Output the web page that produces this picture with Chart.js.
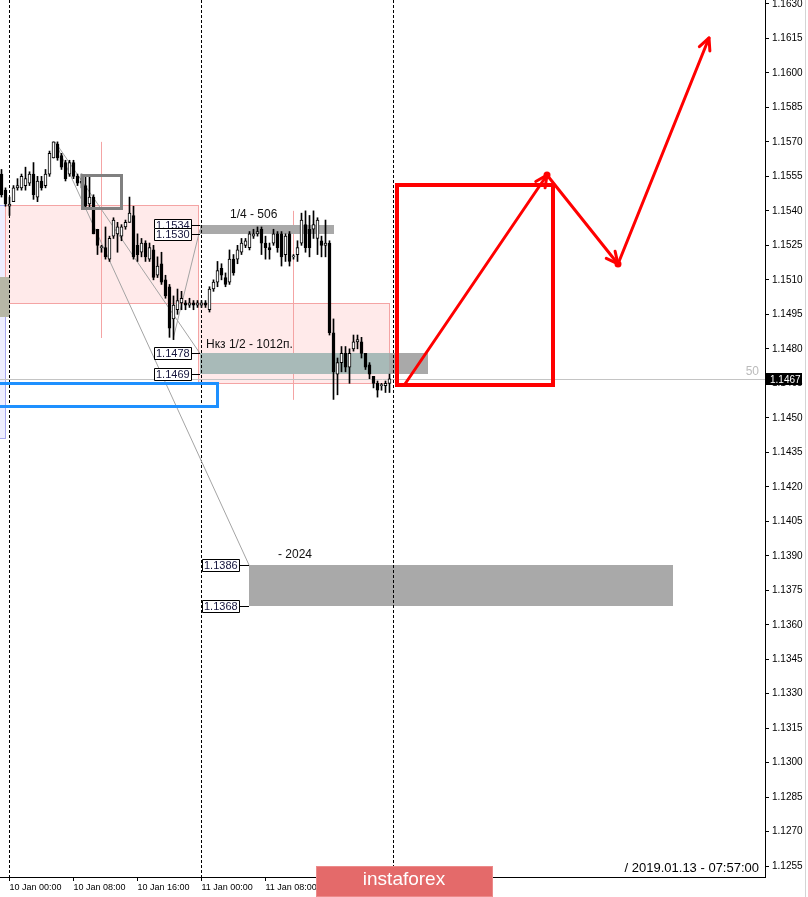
<!DOCTYPE html>
<html>
<head>
<meta charset="utf-8">
<script src="https://cdn.jsdelivr.net/npm/chart.js@4.4.1/dist/chart.umd.min.js"></script>
<style>
  html, body { margin: 0; padding: 0; background: #fff; }
  #wrap { position: relative; width: 808px; height: 897px; }
</style>
</head>
<body>
<div id="wrap"><canvas id="chart" width="808" height="897"></canvas></div>
<script>
// EURUSD M30, 9 Jan 23:00 .. 11 Jan 23:30. Bar 0 = 10 Jan 00:00
const firstBar = -2;
const opens = [
  1.1556, 1.1549,
  1.1542, 1.1544, 1.1550, 1.1550, 1.1551, 1.1552, 1.1556, 1.1546, 1.1553, 1.1551, 1.1556, 1.1563, 1.1569, 1.1564, 1.1561, 1.1556,
  1.1561, 1.1555, 1.1552, 1.1551, 1.1543, 1.1546, 1.1532, 1.1524, 1.1524, 1.1519, 1.1529, 1.1530, 1.1529, 1.1533, 1.1535, 1.1538,
  1.1525, 1.1522, 1.1526, 1.1519, 1.1523, 1.1512, 1.1517, 1.1510, 1.1507, 1.1493, 1.1497, 1.1500, 1.1500, 1.1499, 1.1500, 1.1499,
  1.1499, 1.1500, 1.1497, 1.1506, 1.1509, 1.1515, 1.1511, 1.1509, 1.1519, 1.1519, 1.1522, 1.1525, 1.1524, 1.1529, 1.1530, 1.1532,
  1.1526, 1.1524, 1.1526, 1.1530, 1.1530, 1.1521, 1.1530, 1.1520, 1.1521, 1.1526, 1.1534, 1.1532, 1.1532, 1.1528, 1.1527, 1.1525,
  1.1526, 1.1487, 1.1469, 1.1474, 1.1478, 1.1472, 1.1480, 1.1483, 1.1483, 1.1478, 1.1473, 1.1468, 1.1465, 1.1464, 1.1464, 1.1465
];
const highs = [
  1.1558, 1.1550,
  1.1546, 1.1551, 1.1554, 1.1556, 1.1559, 1.1557, 1.1561, 1.1555, 1.1555, 1.1558, 1.1566, 1.1570, 1.1570, 1.1565, 1.1562, 1.1562,
  1.1562, 1.1556, 1.1556, 1.1555, 1.1555, 1.1547, 1.1532, 1.1525, 1.1533, 1.1529, 1.1537, 1.1535, 1.1534, 1.1536, 1.1546, 1.1542,
  1.1530, 1.1528, 1.1527, 1.1526, 1.1525, 1.1520, 1.1522, 1.1512, 1.1508, 1.1503, 1.1506, 1.1505, 1.1501, 1.1502, 1.1501, 1.1501,
  1.1501, 1.1501, 1.1507, 1.1510, 1.1518, 1.1517, 1.1513, 1.1523, 1.1521, 1.1525, 1.1528, 1.1528, 1.1531, 1.1532, 1.1533, 1.1533,
  1.1529, 1.1526, 1.1532, 1.1531, 1.1531, 1.1530, 1.1531, 1.1521, 1.1527, 1.1539, 1.1540, 1.1538, 1.1540, 1.1537, 1.1529, 1.1536,
  1.1527, 1.1493, 1.1476, 1.1481, 1.1481, 1.1480, 1.1486, 1.1486, 1.1485, 1.1478, 1.1474, 1.1468, 1.1466, 1.1465, 1.1466, 1.1469
];
const lows = [
  1.1546, 1.1542,
  1.1538, 1.1544, 1.1549, 1.1549, 1.1549, 1.1551, 1.1545, 1.1544, 1.1549, 1.1550, 1.1555, 1.1563, 1.1562, 1.1558, 1.1553, 1.1555,
  1.1554, 1.1551, 1.1550, 1.1541, 1.1541, 1.1530, 1.1521, 1.1522, 1.1519, 1.1518, 1.1528, 1.1522, 1.1527, 1.1532, 1.1535, 1.1519,
  1.1518, 1.1520, 1.1518, 1.1518, 1.1510, 1.1511, 1.1508, 1.1502, 1.1485, 1.1484, 1.1495, 1.1497, 1.1497, 1.1498, 1.1497, 1.1498,
  1.1498, 1.1498, 1.1496, 1.1505, 1.1507, 1.1510, 1.1507, 1.1508, 1.1512, 1.1517, 1.1521, 1.1524, 1.1523, 1.1528, 1.1529, 1.1521,
  1.1519, 1.1519, 1.1525, 1.1522, 1.1516, 1.1518, 1.1516, 1.1519, 1.1518, 1.1525, 1.1522, 1.1520, 1.1528, 1.1521, 1.1520, 1.1520,
  1.1486, 1.1458, 1.1460, 1.1470, 1.1470, 1.1465, 1.1479, 1.1480, 1.1476, 1.1471, 1.1467, 1.1463, 1.1459, 1.1462, 1.1461, 1.1461
];
const closes = [
  1.1547, 1.1543,
  1.1543, 1.1550, 1.1551, 1.1555, 1.1554, 1.1556, 1.1547, 1.1553, 1.1550, 1.1556, 1.1565, 1.1570, 1.1563, 1.1559, 1.1554, 1.1561,
  1.1555, 1.1552, 1.1553, 1.1542, 1.1546, 1.1530, 1.1525, 1.1524, 1.1520, 1.1528, 1.1536, 1.1533, 1.1533, 1.1535, 1.1539, 1.1520,
  1.1521, 1.1526, 1.1520, 1.1524, 1.1511, 1.1516, 1.1509, 1.1503, 1.1489, 1.1499, 1.1501, 1.1502, 1.1499, 1.1500, 1.1499, 1.1500,
  1.1500, 1.1499, 1.1506, 1.1509, 1.1514, 1.1512, 1.1508, 1.1519, 1.1513, 1.1523, 1.1526, 1.1527, 1.1530, 1.1530, 1.1531, 1.1526,
  1.1524, 1.1523, 1.1530, 1.1524, 1.1520, 1.1529, 1.1518, 1.1520, 1.1524, 1.1536, 1.1524, 1.1524, 1.1534, 1.1536, 1.1525, 1.1526,
  1.1487, 1.1470, 1.1474, 1.1478, 1.1472, 1.1478, 1.1483, 1.1484, 1.1478, 1.1472, 1.1469, 1.1465, 1.1462, 1.1464, 1.1465, 1.1467
];
const lastPrice = 1.1467;

// axes
const priceTicks = [1.1255, 1.1270, 1.1285, 1.1300, 1.1315, 1.1330, 1.1345, 1.1360, 1.1375, 1.1390, 1.1405, 1.1420, 1.1435,
  1.1450, 1.1465, 1.1480, 1.1495, 1.1510, 1.1525, 1.1540, 1.1555, 1.1570, 1.1585, 1.1600, 1.1615, 1.1630];
const timeTickBars = [0, 16, 32, 48, 64, 80];
const timeTickLabels = ['10 Jan 00:00', '10 Jan 08:00', '10 Jan 16:00', '11 Jan 00:00', '11 Jan 08:00', '11 Jan 16:00'];
const daySeparators = [0, 48, 96];
const priceMin = 1.12503, priceMax = 1.16317;
const barMin = -2.375, barMax = 188.875;

// drawn objects: [fromBar, toBar, low, high]
const leftZone = [-4, -1.125, 1.14412, 1.15425];
const leftBlock = [-4, 0, 1.14938, 1.15112];
const pinkZones = [[-1.125, 47, 1.1500, 1.15425], [47, 94.95, 1.14653, 1.1500]];
const pinkMarks = [[22.9, 1.14847, 1.1570], [70.9, 1.14578, 1.1540]]; // [bar, low, high]
const quarterBand = [47.625, 81, 1.1530, 1.1534];
const halfBand = [47.625, 104.6, 1.1469, 1.1478];
const fullBand = [59.875, 165.875, 1.1368, 1.1386];
const blueBox = [-4, 51.8, 1.14553, 1.1465];
const greySquare = [18.05, 27.95, 1.15413, 1.15558];
const targetBox = [96.875, 135.75, 1.14641, 1.15511];
const trendLines = [[11.4, 1.1570, 59.875, 1.1386], [11.4, 1.1570, 47.625, 1.1478], [41, 1.1485, 47.625, 1.1532]];
const forecastPath = [[98.875, 1.14647], [134.375, 1.15556], [152.125, 1.15169], [174.875, 1.16152]];
const quarterText = '1/4 - 506';
const halfText = 'Нкз 1/2 - 1012п.';
const fullText = '- 2024';
const stampText = '/ 2019.01.13 - 07:57:00';

const barNo = opens.map((_, k) => firstBar + k);
const FONT = 'Liberation Sans';

function paintRect(ctx, b, fill, stroke, lw) {
  const x0 = Math.round(b.x0), x1 = Math.round(b.x1), y0 = Math.round(b.y0), y1 = Math.round(b.y1);
  if (fill) { ctx.fillStyle = fill; ctx.fillRect(x0, y0, x1 - x0, y1 - y0); }
  if (stroke) {
    const o = lw % 2 ? 0.5 : 0;
    ctx.strokeStyle = stroke; ctx.lineWidth = lw;
    ctx.strokeRect(x0 + o, y0 + o, x1 - x0, y1 - y0);
  }
}

function arrowHead(ctx, fx, fy, tx, ty) {
  const ang = Math.atan2(ty - fy, tx - fx), len = 13, spread = 0.45;
  ctx.beginPath();
  ctx.moveTo(tx - len * Math.cos(ang - spread), ty - len * Math.sin(ang - spread));
  ctx.lineTo(tx, ty);
  ctx.lineTo(tx - len * Math.cos(ang + spread), ty - len * Math.sin(ang + spread));
  ctx.stroke();
}

function priceTag(ctx, anchorX, y, gap, text) {
  const w = 37, h = 12, right = Math.round(anchorX - gap), yy = Math.round(y);
  ctx.strokeStyle = '#000'; ctx.lineWidth = 1;
  ctx.beginPath(); ctx.moveTo(right, yy + 0.5); ctx.lineTo(Math.round(anchorX), yy + 0.5); ctx.stroke();
  ctx.fillStyle = '#fff'; ctx.fillRect(right - w, yy - h / 2, w, h);
  ctx.strokeRect(right - w + 0.5, yy - h / 2 + 0.5, w, h);
  ctx.fillStyle = '#14143c'; ctx.font = '11px "' + FONT + '"';
  ctx.textAlign = 'left'; ctx.textBaseline = 'middle';
  ctx.fillText(text, right - w + 2, yy + 1);
}

const overlays = {
  id: 'overlays',
  beforeDatasetsDraw(chart) {
    const {ctx, chartArea: a} = chart;
    const X = v => chart.scales.x.getPixelForValue(v);
    const Y = v => chart.scales.y.getPixelForValue(v);
    const box = r => ({x0: X(r[0]), x1: X(r[1]), y0: Y(r[3]), y1: Y(r[2])});
    ctx.save();
    ctx.beginPath(); ctx.rect(a.left, a.top, a.right - a.left, a.bottom - a.top); ctx.clip();

    paintRect(ctx, box(leftZone), '#eeeeff', '#a8a8f0', 1);
    pinkZones.forEach(z => paintRect(ctx, box(z), '#ffeaea', '#f4a4a4', 1));
    ctx.strokeStyle = '#f4a4a4'; ctx.lineWidth = 1;
    pinkMarks.forEach(m => {
      const x = Math.round(X(m[0])) + 0.5;
      ctx.beginPath(); ctx.moveTo(x, Y(m[2])); ctx.lineTo(x, Y(m[1])); ctx.stroke();
    });
    paintRect(ctx, box(leftBlock), '#b7b7a6');

    // horizontal levels
    paintRect(ctx, box(quarterBand), '#a9a9a9');
    paintRect(ctx, box(halfBand), '#a9a9a9');
    const z2 = pinkZones[1];
    paintRect(ctx, box([Math.max(halfBand[0], z2[0]), Math.min(halfBand[1], z2[1]), halfBand[2], halfBand[3]]), '#a8bab8');
    paintRect(ctx, box(fullBand), '#a9a9a9');

    // current price line
    const py = Math.round(Y(lastPrice)) + 0.5;
    ctx.strokeStyle = '#c4c4c4'; ctx.lineWidth = 1;
    ctx.beginPath(); ctx.moveTo(a.left, py); ctx.lineTo(a.right, py); ctx.stroke();

    // day separators
    ctx.strokeStyle = '#000'; ctx.setLineDash([3, 2]);
    daySeparators.forEach(b => {
      const x = Math.round(X(b) - 0.5) + 0.5;
      ctx.beginPath(); ctx.moveTo(x, a.top); ctx.lineTo(x, a.bottom); ctx.stroke();
    });
    ctx.setLineDash([]);

    // trend lines
    ctx.strokeStyle = '#a4a4a4';
    trendLines.forEach(t => {
      ctx.beginPath(); ctx.moveTo(X(t[0]), Y(t[1])); ctx.lineTo(X(t[2]), Y(t[3])); ctx.stroke();
    });
    ctx.restore();
  },
  afterDatasetsDraw(chart) {
    const {ctx, chartArea: a} = chart;
    const X = v => chart.scales.x.getPixelForValue(v);
    const Y = v => chart.scales.y.getPixelForValue(v);
    const box = r => ({x0: X(r[0]), x1: X(r[1]), y0: Y(r[3]), y1: Y(r[2])});
    ctx.save();
    ctx.beginPath(); ctx.rect(a.left, a.top, a.right - a.left, a.bottom - a.top); ctx.clip();

    paintRect(ctx, box(greySquare), null, '#808080', 3);
    paintRect(ctx, box(blueBox), null, '#1e90ff', 3);
    paintRect(ctx, box(targetBox), null, '#ff0000', 4);

    // forecast arrows
    ctx.strokeStyle = '#ff0000'; ctx.fillStyle = '#ff0000';
    ctx.lineWidth = 3; ctx.lineCap = 'round'; ctx.lineJoin = 'round';
    const pts = forecastPath.map(p => [X(p[0]), Y(p[1])]);
    for (let k = 1; k < pts.length; k++) {
      ctx.beginPath(); ctx.moveTo(pts[k - 1][0], pts[k - 1][1]); ctx.lineTo(pts[k][0], pts[k][1]); ctx.stroke();
      arrowHead(ctx, pts[k - 1][0], pts[k - 1][1], pts[k][0], pts[k][1]);
    }
    for (let k = 1; k < pts.length - 1; k++) {
      ctx.beginPath(); ctx.arc(pts[k][0], pts[k][1], 3.5, 0, Math.PI * 2); ctx.fill();
    }
    ctx.lineCap = 'butt';

    // level tags
    priceTag(ctx, X(quarterBand[0]), Y(quarterBand[3]), 9, quarterBand[3].toFixed(4));
    priceTag(ctx, X(quarterBand[0]), Y(quarterBand[2]), 9, quarterBand[2].toFixed(4));
    priceTag(ctx, X(halfBand[0]), Y(halfBand[3]), 9, halfBand[3].toFixed(4));
    priceTag(ctx, X(halfBand[0]), Y(halfBand[2]), 9, halfBand[2].toFixed(4));
    priceTag(ctx, X(fullBand[0]), Y(fullBand[3]), 10, fullBand[3].toFixed(4));
    priceTag(ctx, X(fullBand[0]), Y(fullBand[2]), 10, fullBand[2].toFixed(4));

    ctx.fillStyle = '#111'; ctx.font = '12px "' + FONT + '"';
    ctx.textAlign = 'left'; ctx.textBaseline = 'alphabetic';
    ctx.fillText(quarterText, X(quarterBand[0]) + 30, Y(quarterBand[3]) - 7);
    ctx.fillText(halfText, X(halfBand[0]) + 6, Y(halfBand[3]) - 5);
    ctx.fillText(fullText, X(fullBand[0]) + 29, Y(fullBand[3]) - 7);

    ctx.fillStyle = '#bbbbbb'; ctx.textAlign = 'right';
    ctx.fillText('50', a.right - 6, Y(lastPrice) - 4);
    ctx.restore();
  },
  afterDraw(chart) {
    const {ctx, chartArea: a} = chart;
    const Y = v => chart.scales.y.getPixelForValue(v);
    ctx.save();
    // last price tag on the axis
    const py = Math.round(Y(lastPrice));
    ctx.fillStyle = '#000'; ctx.fillRect(a.right + 1, py - 6, 36, 12);
    ctx.fillStyle = '#fff'; ctx.font = '10px "' + FONT + '"';
    ctx.textAlign = 'left'; ctx.textBaseline = 'middle';
    ctx.fillText(lastPrice.toFixed(4), a.right + 5, py + 1);

    // time stamp
    ctx.fillStyle = '#000'; ctx.font = '13px "' + FONT + '"';
    ctx.textAlign = 'right';
    ctx.fillText(stampText, a.right - 6, a.bottom - 9);

    // right border
    ctx.strokeStyle = '#d4d4d4'; ctx.lineWidth = 1;
    ctx.beginPath(); ctx.moveTo(805.5, 0); ctx.lineTo(805.5, 897); ctx.stroke();

    // watermark
    ctx.fillStyle = '#e46a6a'; ctx.fillRect(316, 866, 177, 31);
    ctx.strokeStyle = '#ec8a8a'; ctx.strokeRect(316.5, 866.5, 176, 30);
    ctx.fillStyle = '#fff'; ctx.font = '19px "' + FONT + '"';
    ctx.textAlign = 'center'; ctx.textBaseline = 'middle';
    ctx.fillText('instaforex', 404, 880);
    ctx.restore();
  }
};

new Chart(document.getElementById('chart'), {
  type: 'bar',
  data: {
    datasets: [{
      label: 'body',
      data: barNo.map((b, k) => ({x: b, y: [opens[k], closes[k]]})),
      backgroundColor: closes.map((c, k) => c >= opens[k] ? '#ffffff' : '#000000'),
      borderColor: '#000',
      borderWidth: 1,
      borderSkipped: false,
      barThickness: 3,
      minBarLength: 1,
      grouped: false,
      order: 0
    }, {
      label: 'wick',
      data: barNo.map((b, k) => ({x: b, y: [lows[k], highs[k]]})),
      backgroundColor: '#000',
      borderWidth: 0,
      barThickness: 1,
      grouped: false,
      order: 1
    }]
  },
  plugins: [overlays],
  options: {
    responsive: false,
    animation: false,
    events: [],
    layout: { padding: 0 },
    plugins: { legend: { display: false }, tooltip: { enabled: false } },
    scales: {
      x: {
        type: 'linear', position: 'bottom', min: barMin, max: barMax, offset: false, bounds: 'data',
        afterBuildTicks: s => { s.ticks = timeTickBars.map(v => ({value: v})); },
        afterFit: s => { s.height = 20; s.paddingLeft = 0; s.paddingRight = 0; },
        ticks: { autoSkip: false, maxRotation: 0, align: 'start', padding: 1, color: '#000',
                 font: { family: FONT, size: 9 }, callback: (v, k) => timeTickLabels[k] },
        grid: { drawOnChartArea: false, offset: false, color: '#000', tickLength: 4 },
        border: { color: '#000' }
      },
      y: {
        type: 'linear', position: 'right', min: priceMin, max: priceMax, beginAtZero: false, bounds: 'data',
        afterBuildTicks: s => { s.ticks = priceTicks.map(v => ({value: v})); },
        afterFit: s => { s.width = 43; s.paddingTop = 0; s.paddingBottom = 0; },
        ticks: { autoSkip: false, padding: 3, color: '#000',
                 font: { family: FONT, size: 10 }, callback: v => v.toFixed(4) },
        grid: { drawOnChartArea: false, color: '#000', tickLength: 4 },
        border: { color: '#000' }
      }
    }
  }
});
</script>
</body>
</html>
